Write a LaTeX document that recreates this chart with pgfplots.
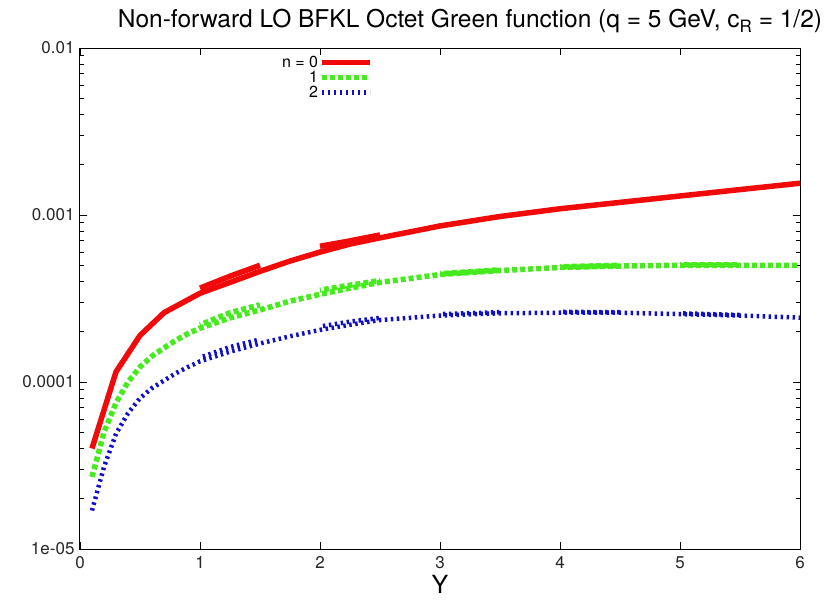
\documentclass[border=0pt]{standalone}
\usepackage{pgfplots}
\pgfplotsset{compat=1.18}
\usepackage{fontspec}
\setmainfont{TeX Gyre Heros}
\definecolor{cred}{RGB}{240,10,10}
\definecolor{cgreen}{RGB}{70,235,30}
\definecolor{cblue}{RGB}{15,15,200}
\begin{document}
\begin{tikzpicture}[x=1pt,y=1pt]
\useasboundingbox (-80,-54) rectangle (758,549);
\begin{axis}[
  at={(0,0)}, anchor=south west,
  scale only axis, width=720pt, height=501pt,
  xmin=0, xmax=6, ymin=1e-5, ymax=1e-2, ymode=log,
  xtick={0,1,2,3,4,5,6},
  ytick={1e-5,1e-4,1e-3,1e-2},
  yticklabels={1e-05,0.0001,0.001,0.01},
  /pgf/number format/assume math mode=true,
  tick align=inside, tick pos=both,
  major tick length=7pt, minor tick length=4pt,
  every tick/.style={black, line width=0.8pt},
  axis line style={line width=1pt},
  ticklabel style={font=\fontsize{17}{19}\selectfont, text=black!85},
  xticklabel style={yshift=-4pt},
  yticklabel style={xshift=-2pt},
  xlabel={Y},
  xlabel style={font=\fontsize{25}{26}\selectfont, yshift=-2pt, inner sep=1pt},
  legend style={at={(0.279,0.986)}, anchor=north west, draw=none, fill=none,
    font=\fontsize{16}{16}\selectfont, row sep=0pt, inner sep=0pt,
    nodes={inner sep=1pt}},
  legend cell align=right,
  legend plot pos=right,
  legend image code/.code={\draw[#1] (0pt,0pt) -- (48pt,0pt);},
]
% n = 0
\addplot[cred, line width=5.5pt, line join=round] coordinates {
(0.1,4.0e-5) (0.3,1.15e-4) (0.5,1.9e-4) (0.7,2.6e-4) (1.0,3.4e-4)
(1.25,3.95e-4) (1.5,4.6e-4) (1.75,5.3e-4) (2.0,6.0e-4) (2.25,6.7e-4) (2.5,7.3e-4)
(3.0,8.6e-4) (3.5,9.8e-4) (4.0,1.09e-3) (4.5,1.19e-3) (5.0,1.3e-3) (5.5,1.42e-3) (6.0,1.55e-3)};
\addlegendentry{n = 0}
% n = 1
\addplot[cgreen, line width=5.5pt, dash pattern=on 5pt off 3pt] coordinates {
(0.1,2.7e-5) (0.2,5.0e-5) (0.3,7.5e-5) (0.4,1.0e-4) (0.5,1.23e-4) (0.6,1.43e-4) (0.7,1.6e-4)
(0.8,1.78e-4) (0.9,1.95e-4) (1.0,2.1e-4) (1.25,2.42e-4) (1.5,2.7e-4) (1.75,3.05e-4) (2.0,3.35e-4)
(2.25,3.65e-4) (2.5,3.95e-4) (3.0,4.4e-4) (3.5,4.65e-4) (4.0,4.85e-4) (4.5,4.95e-4)
(5.0,5.0e-4) (5.5,5.0e-4) (6.0,5.0e-4)};
\addlegendentry{1}
% n = 2
\addplot[cblue, line width=4.5pt, dash pattern=on 2.5pt off 3.5pt] coordinates {
(0.1,1.7e-5) (0.2,3.1e-5) (0.3,4.9e-5) (0.4,6.5e-5) (0.5,8.0e-5) (0.6,9.2e-5) (0.7,1.02e-4)
(0.8,1.13e-4) (0.9,1.23e-4) (1.0,1.33e-4) (1.25,1.52e-4) (1.5,1.7e-4) (1.75,1.88e-4) (2.0,2.05e-4)
(2.25,2.2e-4) (2.5,2.35e-4) (3.0,2.5e-4) (3.5,2.58e-4) (4.0,2.6e-4) (4.5,2.6e-4)
(5.0,2.55e-4) (5.5,2.5e-4) (6.0,2.43e-4)};
\addlegendentry{2}
% overlapping denser pieces
\addplot[cred, line width=5.5pt, forget plot] coordinates {(1.0,3.65e-4) (1.25,4.3e-4) (1.5,5.0e-4)};
\addplot[cred, line width=5.5pt, forget plot] coordinates {(2.0,6.5e-4) (2.25,7.0e-4) (2.5,7.6e-4)};
\addplot[cgreen, line width=5.5pt, dash pattern=on 5pt off 3pt, dash phase=4pt, forget plot] coordinates {(1.0,2.2e-4) (1.25,2.6e-4) (1.5,2.9e-4)};
\addplot[cgreen, line width=5.5pt, dash pattern=on 5pt off 3pt, dash phase=4pt, forget plot] coordinates {(2.0,3.55e-4) (2.25,3.8e-4) (2.5,4.05e-4)};
\addplot[cgreen, line width=5.5pt, dash pattern=on 5pt off 3pt, dash phase=4pt, forget plot] coordinates {(3.0,4.45e-4) (3.5,4.7e-4)};
\addplot[cgreen, line width=5.5pt, dash pattern=on 5pt off 3pt, dash phase=4pt, forget plot] coordinates {(4.0,4.9e-4) (4.5,5.0e-4)};
\addplot[cgreen, line width=5.5pt, dash pattern=on 5pt off 3pt, dash phase=4pt, forget plot] coordinates {(5.0,5.05e-4) (5.5,5.05e-4)};
\addplot[cblue, line width=4.5pt, dash pattern=on 2.5pt off 3.5pt, dash phase=3pt, forget plot] coordinates {(1.0,1.4e-4) (1.25,1.62e-4) (1.5,1.8e-4)};
\addplot[cblue, line width=4.5pt, dash pattern=on 2.5pt off 3.5pt, dash phase=3pt, forget plot] coordinates {(2.0,2.15e-4) (2.25,2.3e-4) (2.5,2.42e-4)};
\addplot[cblue, line width=4.5pt, dash pattern=on 2.5pt off 3.5pt, dash phase=3pt, forget plot] coordinates {(3.0,2.55e-4) (3.5,2.62e-4)};
\addplot[cblue, line width=4.5pt, dash pattern=on 2.5pt off 3.5pt, dash phase=3pt, forget plot] coordinates {(4.0,2.63e-4) (4.5,2.62e-4)};
\addplot[cblue, line width=4.5pt, dash pattern=on 2.5pt off 3.5pt, dash phase=3pt, forget plot] coordinates {(5.0,2.58e-4) (5.5,2.52e-4)};
\end{axis}
\node[font=\fontsize{24.5}{26}\selectfont, anchor=center] at (390,528)
  {Non-forward LO BFKL Octet Green function (q = 5 GeV, c\raisebox{-5pt}{\fontsize{17}{17}\selectfont R} = 1/2)};
\end{tikzpicture}
\end{document}
